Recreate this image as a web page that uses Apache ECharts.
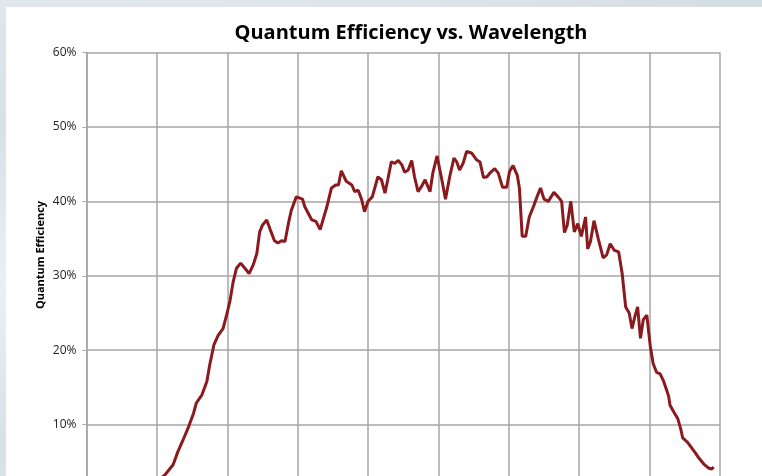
<!DOCTYPE html>
<html>
<head>
<meta charset="utf-8">
<script src="https://cdn.jsdelivr.net/npm/echarts@6/dist/echarts.min.js"></script>
<style>
html,body{margin:0;padding:0;width:762px;height:476px;overflow:hidden;background:#dbe4ea;}
#bg{position:absolute;left:0;top:0;width:762px;height:476px;
 background:radial-gradient(ellipse at 10% 60%, #eef3f6 0%, #d6e0e7 40%, #dfe7ec 70%, #d3dde4 100%);}
#panel{position:absolute;left:6px;top:7px;width:760px;height:560px;background:#ffffff;}
#chart{position:absolute;left:0;top:0;width:762px;height:560px;}
</style>
</head>
<body>
<div id="bg"></div>
<div id="panel"></div>
<div id="chart"></div>
<script>
const titleText = "Quantum Efficiency vs. Wavelength";
const yAxisTitle = "Quantum Efficiency";
const wavelengths = [290,304,311,323,330,337,345,352,356,364,371,375,381,387,394,399,404,408,413,419,425,431,437,442,446,450,456,461,467,472,477,482,487,491,498,507,510,515,520,526,532,536,541,548,554,558,562,569,577,581,586,591,595,600,606,614,619,624,628,633,638,643,648,652,657,662,666,671,676,681,688,692,698,704,710,716,722,726,730,735,740,747,754,759,764,769,773,780,785,791,797,801,806,812,815,819,824,829,835,840,845,850,856,864,870,875,879,883,888,893,898,903,909,912,916,921,927,934,939,944,950,956,961,966,971,975,979,983,987,991,996,1001,1005,1010,1015,1020,1025,1027,1029,1035,1040,1044,1047,1054,1061,1065,1070,1077,1083,1088,1091];
const qe = [1.0,2.7,3.2,4.6,6.4,7.9,9.7,11.5,12.9,14.0,15.8,18.0,20.7,22.0,22.9,24.7,26.7,29.0,31.0,31.7,31.0,30.3,31.5,33.0,35.9,36.8,37.5,36.2,34.7,34.4,34.7,34.6,37.1,38.8,40.6,40.3,39.3,38.4,37.5,37.3,36.2,37.5,39.1,41.8,42.2,42.2,44.1,42.7,42.2,41.3,41.5,40.2,38.6,40.0,40.6,43.3,42.9,41.1,42.9,45.3,45.1,45.5,44.9,43.9,44.2,45.5,43.3,41.3,42.0,42.9,41.3,43.8,46.1,43.3,40.3,43.3,45.8,45.3,44.2,45.1,46.7,46.5,45.6,45.3,43.2,43.3,43.8,44.4,43.8,41.9,41.9,44.0,44.8,43.5,41.8,35.3,35.3,37.9,39.3,40.6,41.8,40.3,40.0,41.2,40.6,40.0,35.8,36.8,40.0,35.9,37.0,35.3,37.9,33.6,34.6,37.4,35.0,32.4,32.8,34.3,33.4,33.2,30.3,25.8,25.0,22.9,24.5,25.8,21.6,24.1,24.7,20.5,18.2,17.0,16.8,15.8,14.4,13.8,12.6,11.6,10.8,9.5,8.2,7.6,6.7,6.2,5.5,4.7,4.2,4.0,4.3];
const yTicks = [0,10,20,30,40,50,60];

const fontFam = '"Open Sans", "Noto Sans", sans-serif';
const chart = echarts.init(document.getElementById('chart'), null, {renderer:'canvas'});
chart.setOption({
  animation:false,
  backgroundColor:'transparent',
  title:{text:titleText,left:406,top:18,textAlign:'center',
    textStyle:{fontFamily:fontFam,fontWeight:'bold',fontSize:20,color:'#000'}},
  graphic:[{type:'text',x:41,y:255,rotation:Math.PI/2,
    style:{text:yAxisTitle,font:'bold 11px "Open Sans", sans-serif',fill:'#000',
      textAlign:'center',textVerticalAlign:'middle'}}],
  grid:{left:86.5,right:42,top:52.5,bottom:61,containLabel:false},
  xAxis:{type:'value',min:200,max:1100,interval:100,
    axisLine:{show:true,lineStyle:{color:'#a6a6a6',width:1.5}},
    axisTick:{show:true,length:4,lineStyle:{color:'#a6a6a6'}},
    axisLabel:{fontFamily:fontFam,fontSize:12,color:'#222'},
    splitLine:{show:true,lineStyle:{color:'#a6a6a6',width:1.5}}},
  yAxis:{type:'value',min:yTicks[0],max:yTicks[yTicks.length-1],interval:10,
    axisLine:{show:true,lineStyle:{color:'#a6a6a6',width:1.5}},
    axisTick:{show:true,length:4,lineStyle:{color:'#a6a6a6'}},
    axisLabel:{fontFamily:fontFam,fontSize:12,color:'#222',margin:10,formatter:v=>v+'%'},
    splitLine:{show:true,lineStyle:{color:'#a6a6a6',width:1.5}}},
  series:[{type:'line',data:wavelengths.map((w,i)=>[w,qe[i]]),showSymbol:false,
    lineStyle:{color:'#8b1a1e',width:3},smooth:false}]
});
</script>
</body>
</html>
